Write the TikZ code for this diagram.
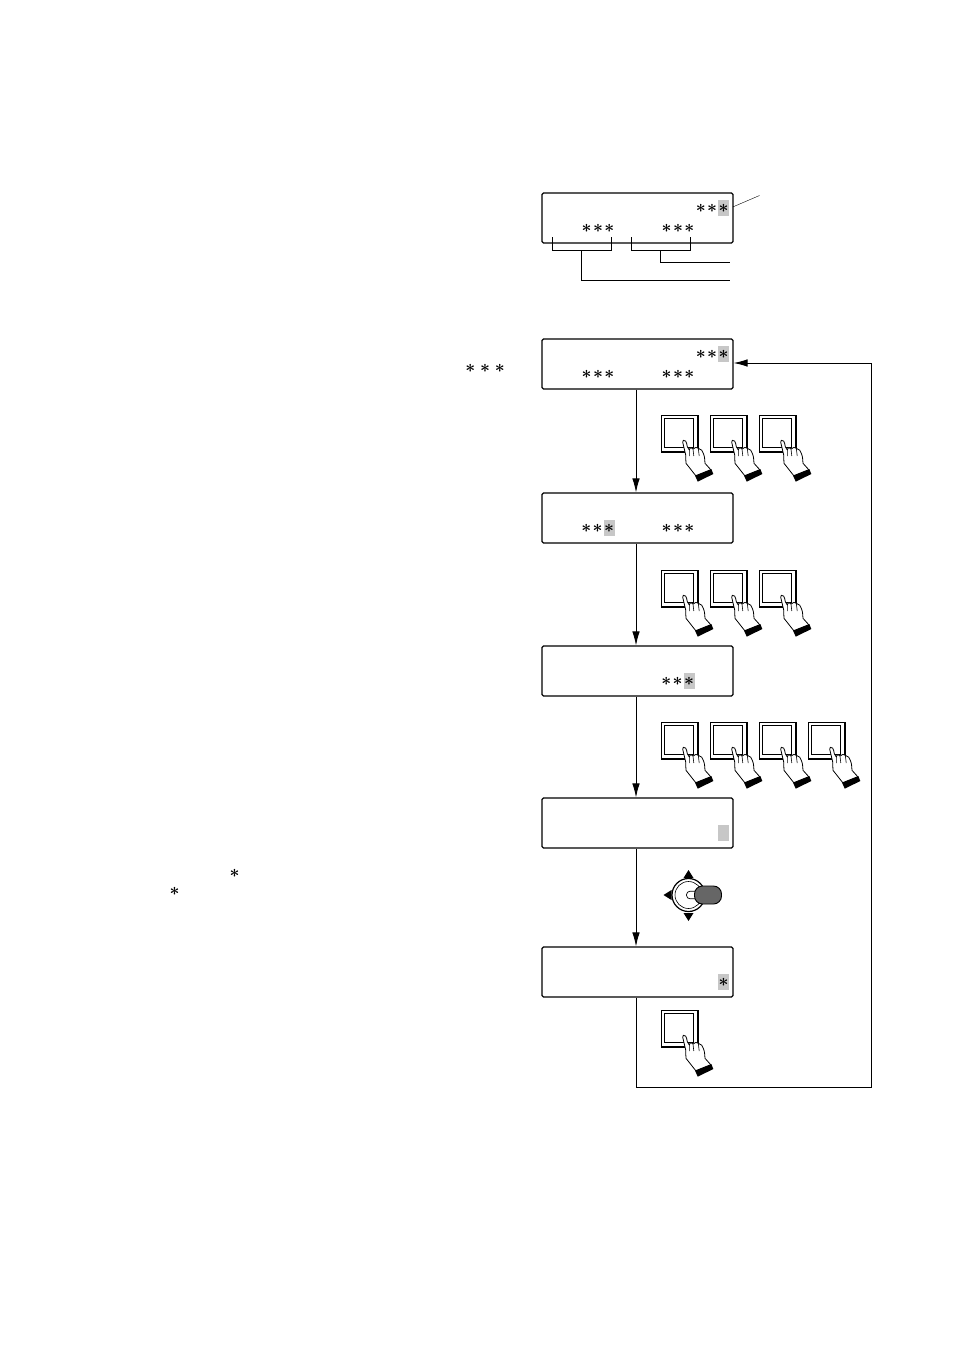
\documentclass[tikz,border=0pt]{standalone}
\usepackage{amsmath}
\usetikzlibrary{arrows.meta}

\newcommand{\onestar}{{\boldmath$*$}}
\newcommand{\twostars}{\onestar\kern1.5pt\onestar}
\newcommand{\threestars}{\onestar\kern1.5pt\onestar\kern1.5pt\onestar}

\tikzset{
	lcdpanel/.style={shape=rectangle,draw=black,line width=1.1pt,rounded corners=1.5pt,minimum width=191pt,minimum height=50pt,inner sep=0pt},
	starrow/.style={inner sep=0pt,font=\fontsize{17}{17}\selectfont},
	starcell/.style={fill=black!22,minimum width=11pt,minimum height=16pt,inner sep=0pt,font=\fontsize{17}{17}\selectfont},
	flow/.style={line width=0.9pt,-{Latex[length=14pt,width=7.5pt]}},
	wire/.style={line width=0.9pt},
	pushkey/.pic={
		\draw[line width=0.9pt] (0,0) rectangle (36,36);
		\draw[line width=2pt] (36.5,0) -- (36.5,36.5) -- (0,36.5);
		\draw[line width=0.9pt] (3.5,3.5) rectangle (32.5,32.5);
		\draw[fill=white,line width=0.8pt,line join=round] (22.3,25.3) .. controls (24,24.5) and (25.5,26) .. (26.3,31.7) -- (28.3,35) .. controls (29,32) and (31,32) .. (32,34) .. controls (34,32) and (36,32) .. (37.3,33.3) .. controls (40,34) and (42,36) .. (42.3,38.3) .. controls (44,42) and (43.5,45) .. (44,48.3) -- (50,55) -- (35,61) -- (25,48.3) .. controls (24,45) and (25.5,43) .. (24.7,40) -- (21.7,27.3) .. controls (21.5,26) and (21.8,25.6) .. (22.3,25.3) -- cycle;
		\draw[line width=0.6pt] (28.3,35) -- (28.3,41) (32,34) -- (32.8,41) (37.3,33.3) -- (38.2,41);
		\fill (34,60.5) -- (50.3,54) -- (52.3,59) -- (36.7,66.7) -- cycle;
	},
}

\begin{document}
\begin{tikzpicture}[x=1pt,y=-1pt]

	\useasboundingbox (0,0) rectangle (954,1351);

	% display panels
	\node[lcdpanel] (panela) at (637.5, 218) {};
	\node[lcdpanel] (panelb) at (637.5, 364) {};
	\node[lcdpanel] (panelc) at (637.5, 518) {};
	\node[lcdpanel] (paneld) at (637.5, 671) {};
	\node[lcdpanel] (panele) at (637.5, 823) {};
	\node[lcdpanel] (panelf) at (637.5, 972) {};

	% star rows
	\node[starrow] (aone)   at (706.5, 208) {\twostars};
	\node[starcell] (ahi)   at (723.5, 208) {\onestar};
	\node[starrow] (atwo)   at (598, 228) {\threestars};
	\node[starrow] (athree) at (678, 228) {\threestars};

	\node[starrow] (bone)   at (706.5, 354) {\twostars};
	\node[starcell] (bhi)   at (723.5, 354) {\onestar};
	\node[starrow] (btwo)   at (598, 374) {\threestars};
	\node[starrow] (bthree) at (678, 374) {\threestars};

	\node[starrow] (ctwo)   at (592, 528) {\twostars};
	\node[starcell] (chi)   at (609, 528) {\onestar};
	\node[starrow] (cthree) at (678, 528) {\threestars};

	\node[starrow] (dthree) at (672, 681) {\twostars};
	\node[starcell] (dhi)   at (689, 681) {\onestar};

	\node[starcell] (ehi)   at (723.5, 833) {};
	\node[starcell] (fhi)   at (723.5, 982) {\onestar};

	% stars in the left column
	\node[starrow] (rowstars) at (485, 368) {\onestar\kern4.8pt\onestar\kern4.8pt\onestar};
	\node[starrow] (starp)    at (234.5, 873) {\onestar};
	\node[starrow] (starq)    at (174.5, 891) {\onestar};

	% brackets under the first panel
	\coordinate (brone)   at (730, 262);
	\coordinate (brtwo)   at (730, 280);
	\coordinate (leader)  at (759.5, 195.5);
	\draw[wire] (552.5, 237) |- (611.5, 250.5) -- (611.5, 237);
	\draw[wire] (631.5, 237) |- (690.5, 250.5) -- (690.5, 237);
	\draw[wire] (660.5, 250.5) |- (brone);
	\draw[wire] (581.5, 250.5) |- (brtwo);
	\draw[line width=0.4pt] ([xshift=3.5pt,yshift=1pt]ahi.east) -- (leader);

	% flow between the panels
	\draw[flow] ([xshift=-1.5pt]panelb.south) -- ([xshift=-1.5pt]panelc.north);
	\draw[flow] ([xshift=-1.5pt]panelc.south) -- ([xshift=-1.5pt]paneld.north);
	\draw[flow] ([xshift=-1.5pt]paneld.south) -- ([xshift=-1.5pt]panele.north);
	\draw[flow] ([xshift=-1.5pt]panele.south) -- ([xshift=-1.5pt]panelf.north);

	% return line
	\coordinate (backa) at (636, 1087);
	\coordinate (backb) at (871.5, 1087);
	\coordinate (backc) at (871.5, 363);
	\draw[flow] ([xshift=-1.5pt]panelf.south) -- (backa) -- (backb) -- (backc) -- (panelb.east |- backc);

	% keys
	\pic at (661, 415) {pushkey};
	\pic at (710, 415) {pushkey};
	\pic at (759, 415) {pushkey};

	\pic at (661, 570) {pushkey};
	\pic at (710, 570) {pushkey};
	\pic at (759, 570) {pushkey};

	\pic at (661, 722) {pushkey};
	\pic at (710, 722) {pushkey};
	\pic at (759, 722) {pushkey};
	\pic at (808, 722) {pushkey};

	\pic at (661, 1010) {pushkey};

	% joystick
	\fill (688.5, 870) -- (683.5, 878) -- (693.5, 878) -- cycle;
	\fill (688.5, 921) -- (683.5, 913) -- (693.5, 913) -- cycle;
	\fill (663.5, 895) -- (671.5, 890) -- (671.5, 900) -- cycle;
	\draw[fill=white,line width=1.2pt] (688.5, 895) circle (16.5);
	\draw[line width=0.6pt] (688.5, 895) circle (13.5);
	\draw[fill=white,line width=0.7pt,rounded corners=3.5pt] (686.5, 891.2) rectangle (700, 898.8);
	\draw[fill=black!60,line width=0.9pt,rounded corners=8pt] (694.5, 886) rectangle (721.5, 904);

\end{tikzpicture}
\end{document}
